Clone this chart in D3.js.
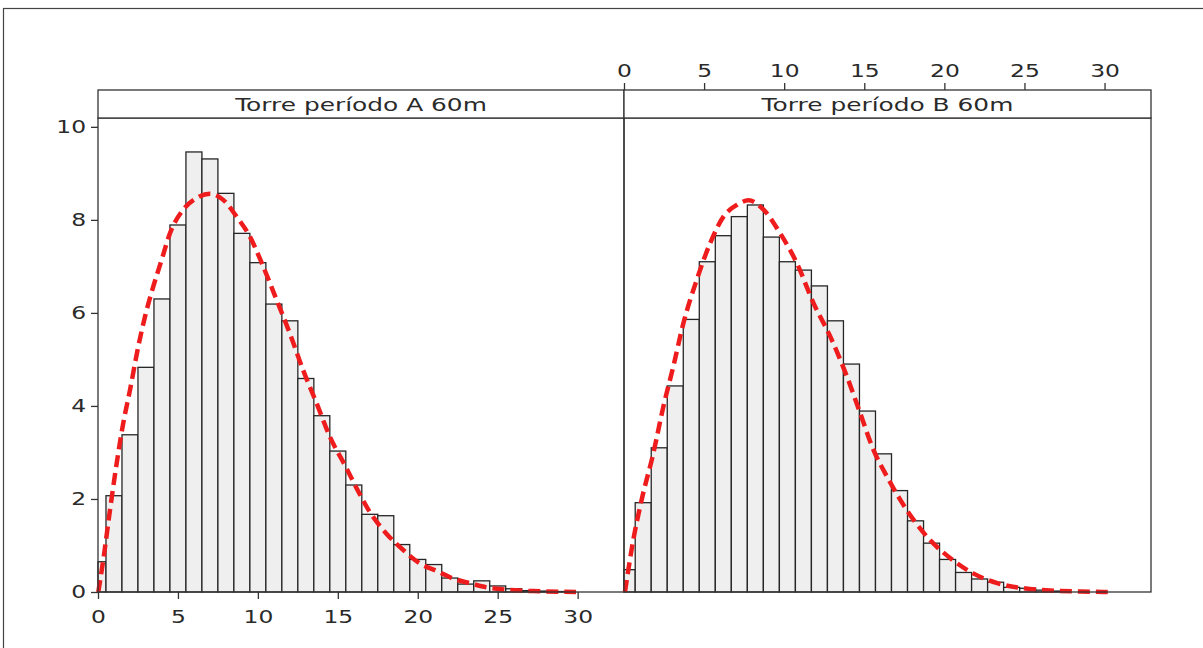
<!DOCTYPE html>
<html>
<head>
<meta charset="utf-8">
<script src="https://cdn.jsdelivr.net/npm/d3@7"></script>
<style>
  body { margin: 0; background: #fff; }
  svg { display: block; }
  text { font-family: "DejaVu Sans", Verdana, sans-serif; fill: #2a2a2a; }
</style>
</head>
<body>
<script>
// panel titles
var panels = ["Torre período A 60m", "Torre período B 60m"];

// histogram heights (percent), first bin clipped at 0, then bins of width 1
var barsA = [0.65, 2.07, 3.38, 4.83, 6.30, 7.89, 9.46, 9.31, 8.57, 7.71, 7.08, 6.19, 5.83, 4.59,
             3.79, 3.03, 2.30, 1.67, 1.64, 1.02, 0.70, 0.59, 0.30, 0.17, 0.24, 0.13, 0.07, 0.03, 0.02, 0.01];
var barsB = [0.48, 1.92, 3.10, 4.43, 5.86, 7.10, 7.66, 8.07, 8.32, 7.63, 7.10, 6.92, 6.58, 5.83,
             4.90, 3.89, 2.97, 2.18, 1.53, 1.05, 0.70, 0.42, 0.28, 0.21, 0.10, 0.08, 0.04, 0.02];
// where the first full bin starts
var breakA = 0.5, breakB = 0.7;

// fitted curves
var curveAx = [0.02, 0.33, 0.75, 1.17, 1.58, 2.0, 2.52, 2.94, 3.46, 3.98, 4.5, 5.33, 6.17, 7.0, 7.83,
               8.67, 9.5, 10.33, 11.17, 12.0, 12.83, 13.67, 14.5, 15.5, 16.3, 17.0, 18.0, 19.1, 20.1,
               21.2, 22.2, 23.25, 24.3, 25.5, 27.2, 29.9];
var curveAy = [0, 0.69, 1.76, 2.77, 3.63, 4.34, 5.28, 5.92, 6.57, 7.14, 7.71, 8.22, 8.47, 8.56, 8.43,
               8.07, 7.64, 7.0, 6.28, 5.56, 4.77, 4.06, 3.34, 2.69, 2.15, 1.72, 1.27, 0.90, 0.62,
               0.45, 0.29, 0.19, 0.10, 0.05, 0.02, 0];
var curveBx = [0.06, 0.58, 1.1, 1.83, 2.46, 3.08, 3.71, 4.54, 5.38, 6.21, 7.04, 7.77, 8.71, 9.75,
               10.79, 11.83, 12.88, 13.92, 14.75, 15.58, 16.42, 17.25, 18.08, 19.1, 20.4, 21.8,
               23.3, 24.96, 26.6, 28.5, 30.2];
var curveBy = [0, 1.12, 1.98, 2.98, 3.99, 4.85, 5.78, 6.71, 7.50, 8.07, 8.32, 8.42, 8.22, 7.71,
               7.07, 6.21, 5.49, 4.63, 3.84, 3.05, 2.48, 1.98, 1.55, 1.12, 0.72, 0.40,
               0.19, 0.08, 0.03, 0.01, 0];

var xTicks = [0, 5, 10, 15, 20, 25, 30];
var yTicks = [0, 2, 4, 6, 8, 10];

var width = 1203, height = 648;
var plotTop = 118, plotBottom = 592, stripTop = 90;
var cols = [[98, 624], [624, 1151]];

var svg = d3.select("body").append("svg")
    .attr("width", width)
    .attr("height", height);

// outer frame
svg.append("rect")
    .attr("x", 3.5).attr("y", 8.5)
    .attr("width", 1260).attr("height", 700)
    .attr("fill", "none").attr("stroke", "#444").attr("stroke-width", 1.2);

var y = d3.scaleLinear().domain([0, 10.19]).range([plotBottom, plotTop]);

var data = [
    {bars: barsA, brk: breakA, cx: curveAx, cy: curveAy},
    {bars: barsB, brk: breakB, cx: curveBx, cy: curveBy}
];

// stretch text horizontally like the reference
function widen(sel, f) {
    sel.each(function() {
        var w = this.getComputedTextLength();
        d3.select(this).attr("textLength", w * f).attr("lengthAdjust", "spacingAndGlyphs");
    });
}

data.forEach(function(d, i) {
    var x = d3.scaleLinear().domain([0, 32.9]).range(cols[i]);
    var g = svg.append("g");

    var bins = d.bars.map(function(v, k) {
        var x0 = k === 0 ? 0 : d.brk + k - 1;
        var x1 = d.brk + k;
        return {x0: x0, x1: x1, v: v};
    });

    g.selectAll(".bar")
        .data(bins)
        .enter()
        .append("rect")
        .attr("class", "bar")
        .attr("x", function(b) { return x(b.x0); })
        .attr("y", function(b) { return y(b.v); })
        .attr("width", function(b) { return x(b.x1) - x(b.x0); })
        .attr("height", function(b) { return y(0) - y(b.v); })
        .attr("fill", "#efefef")
        .attr("stroke", "#262626")
        .attr("stroke-width", 1.3);

    var pts = d.cx.map(function(u, k) { return [u, d.cy[k]]; });
    var line = d3.line()
        .x(function(p) { return x(p[0]); })
        .y(function(p) { return y(p[1]); })
        .curve(d3.curveMonotoneX);

    g.append("path")
        .attr("d", line(pts))
        .attr("fill", "none")
        .attr("stroke", "#ee1c1c")
        .attr("stroke-width", 4.5)
        .attr("stroke-dasharray", "12,6");

    // panel border
    g.append("rect")
        .attr("x", cols[i][0]).attr("y", plotTop)
        .attr("width", cols[i][1] - cols[i][0]).attr("height", plotBottom - plotTop)
        .attr("fill", "none").attr("stroke", "#333").attr("stroke-width", 1.3);

    // strip
    g.append("rect")
        .attr("x", cols[i][0]).attr("y", stripTop)
        .attr("width", cols[i][1] - cols[i][0]).attr("height", plotTop - stripTop)
        .attr("fill", "#fff").attr("stroke", "#333").attr("stroke-width", 1.3);

    g.append("text")
        .attr("x", (cols[i][0] + cols[i][1]) / 2)
        .attr("y", 111)
        .attr("text-anchor", "middle")
        .attr("font-size", 18)
        .text(panels[i])
        .call(widen, 1.38);

    if (i === 0) {
        var ax = svg.append("g")
            .attr("transform", "translate(0," + plotBottom + ")")
            .call(d3.axisBottom(x).tickValues(xTicks).tickSize(7).tickPadding(11));
        var ay = svg.append("g")
            .attr("transform", "translate(" + cols[0][0] + ",0)")
            .call(d3.axisLeft(y).tickValues(yTicks).tickSize(7).tickPadding(5));
        [ax, ay].forEach(function(a) {
            a.select(".domain").remove();
            a.selectAll("line").attr("stroke", "#333").attr("stroke-width", 1.3);
            a.selectAll("text").attr("font-size", 18).attr("fill", "#2a2a2a")
                .attr("font-family", "DejaVu Sans, Verdana, sans-serif").call(widen, 1.3);
        });
    } else {
        var at = svg.append("g")
            .attr("transform", "translate(0," + stripTop + ")")
            .call(d3.axisTop(x).tickValues(xTicks).tickSize(7).tickPadding(6));
        at.select(".domain").remove();
        at.selectAll("line").attr("stroke", "#333").attr("stroke-width", 1.3);
        at.selectAll("text").attr("font-size", 18).attr("fill", "#2a2a2a")
            .attr("font-family", "DejaVu Sans, Verdana, sans-serif").call(widen, 1.3);
    }
});
</script>
</body>
</html>
